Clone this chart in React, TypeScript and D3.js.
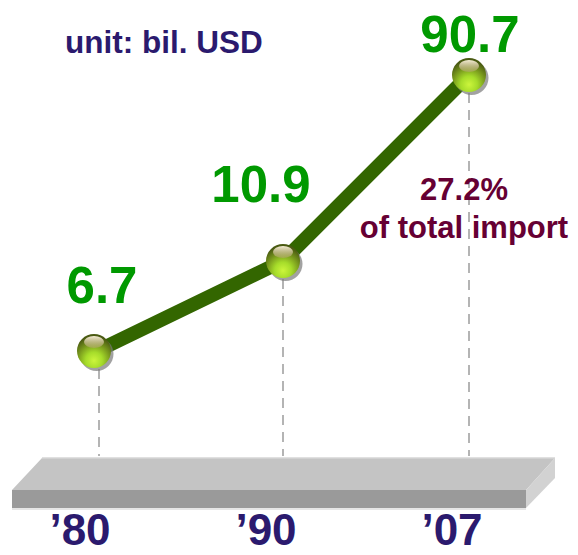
import React, { useEffect, useRef } from 'react';
import * as d3 from 'd3';

// chart data
const years: string[] = ['\u201980', '\u201990', '\u201907'];
const values: number[] = [6.7, 10.9, 90.7];
const unitLabel = 'unit: bil. USD';
const shareLines: string[] = ['27.2%', 'of total import'];

const App = () => {
  const ref = useRef<SVGSVGElement>(null);

  useEffect(() => {
    const width = 578;
    const height = 555;
    const svg = d3.select(ref.current);
    svg.selectAll('*').remove();

    const x = d3.scalePoint<string>().domain(years).range([97, 469]);
    // the original isn't to scale, so use a piecewise scale through the values
    const y = d3.scaleLinear().domain(values).range([351, 261, 75]);

    const defs = svg.append('defs');
    const ballGrad = defs.append('radialGradient')
      .attr('id', 'ball')
      .attr('cx', '50%').attr('cy', '78%').attr('r', '70%');
    ballGrad.append('stop').attr('offset', '0%').attr('stop-color', '#ccf53c');
    ballGrad.append('stop').attr('offset', '35%').attr('stop-color', '#a6dc2a');
    ballGrad.append('stop').attr('offset', '70%').attr('stop-color', '#76951c');
    ballGrad.append('stop').attr('offset', '100%').attr('stop-color', '#4a5a12');
    const hiGrad = defs.append('linearGradient')
      .attr('id', 'hi').attr('x1', 0).attr('x2', 0).attr('y1', 0).attr('y2', 1);
    hiGrad.append('stop').attr('offset', '0%').attr('stop-color', '#fff6e0').attr('stop-opacity', 0.95);
    hiGrad.append('stop').attr('offset', '100%').attr('stop-color', '#b8a474').attr('stop-opacity', 0.5);

    // platform (base)
    const base = svg.append('g');
    base.append('polygon')
      .attr('points', '42,458 555,458 526,490 12,490')
      .attr('fill', '#c4c4c4');
    base.append('line')
      .attr('x1', 42).attr('x2', 555).attr('y1', 458).attr('y2', 458)
      .attr('stroke', '#d6d6d6').attr('stroke-width', 1.5);
    base.append('polygon')
      .attr('points', '526,490 555,458 555,478 526,508')
      .attr('fill', '#d2d2d2');
    base.append('rect')
      .attr('x', 12).attr('y', 490).attr('width', 514).attr('height', 18)
      .attr('fill', '#9a9a9a');
    base.append('line')
      .attr('x1', 12).attr('x2', 526).attr('y1', 509).attr('y2', 509)
      .attr('stroke', '#e6e6e6').attr('stroke-width', 2);

    // dashed drop lines
    svg.append('g').selectAll('line')
      .data(values)
      .enter().append('line')
      .attr('x1', (d, i) => x(years[i])! + (i === 0 ? 2 : 0))
      .attr('x2', (d, i) => x(years[i])! + (i === 0 ? 2 : 0))
      .attr('y1', d => y(d) + 18)
      .attr('y2', 456)
      .attr('stroke', '#b4b4b4')
      .attr('stroke-width', 2)
      .attr('stroke-dasharray', '10,7');

    // the line
    const line = d3.line<number>()
      .x((d, i) => x(years[i])!)
      .y(d => y(d));
    svg.append('path')
      .datum(values)
      .attr('d', line)
      .attr('fill', 'none')
      .attr('stroke', '#336600')
      .attr('stroke-width', 14);

    // balls
    const balls = svg.append('g').selectAll('g')
      .data(values)
      .enter().append('g')
      .attr('transform', (d, i) => `translate(${x(years[i])! - (i === 0 ? 3 : 0)},${y(d)})`);
    balls.append('circle')
      .attr('cx', 2.5).attr('cy', 3).attr('r', 17)
      .attr('fill', '#7a7a7a').attr('opacity', 0.7);
    balls.append('circle')
      .attr('r', 17)
      .attr('fill', 'url(#ball)');
    balls.append('ellipse')
      .attr('cy', -9).attr('rx', 10).attr('ry', 6)
      .attr('fill', 'url(#hi)');

    // value labels
    const labelDx = [5, -22, 1];
    const labelDy = [-48, -59, -23];
    svg.append('g').selectAll('text')
      .data(values)
      .enter().append('text')
      .attr('x', (d, i) => x(years[i])! + labelDx[i])
      .attr('y', (d, i) => y(d) + labelDy[i])
      .attr('text-anchor', 'middle')
      .attr('font-size', 51)
      .attr('font-weight', 'bold')
      .attr('fill', '#009900')
      .text(d => d3.format('.1f')(d));

    // year labels (kept inside the bottom edge)
    svg.append('g').selectAll('text')
      .data(years)
      .enter().append('text')
      .attr('x', d => x(d)! - 17)
      .attr('y', 545)
      .attr('text-anchor', 'middle')
      .attr('font-size', 44)
      .attr('font-weight', 'bold')
      .attr('fill', '#2b1a6e')
      .text(d => d);

    // unit label
    svg.append('text')
      .attr('x', 65).attr('y', 53)
      .attr('font-size', 31.5)
      .attr('font-weight', 'bold')
      .attr('fill', '#2b1a6e')
      .text(unitLabel);

    // share annotation
    svg.append('g').selectAll('text')
      .data(shareLines)
      .enter().append('text')
      .attr('x', 464)
      .attr('y', (d, i) => 200 + i * 38)
      .attr('text-anchor', 'middle')
      .attr('font-size', 31)
      .attr('font-weight', 'bold')
      .attr('fill', '#660033')
      .text(d => d);

    svg.attr('width', width).attr('height', height);
  }, []);

  return (
    <svg
      ref={ref}
      width={578}
      height={555}
      style={{ position: 'absolute', left: 0, top: 0, background: '#fff', fontFamily: '"Liberation Sans", Arial, sans-serif' }}
    />
  );
};

export default App;
